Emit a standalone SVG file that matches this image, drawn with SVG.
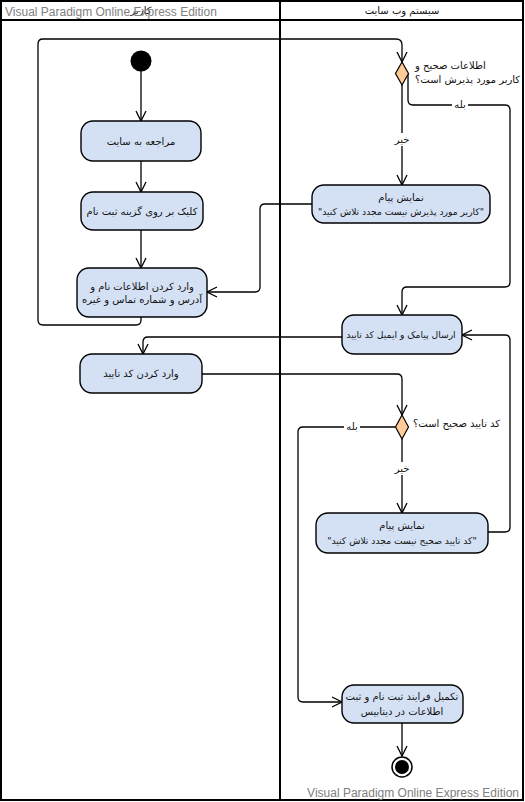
<svg xmlns="http://www.w3.org/2000/svg" width="525" height="802" viewBox="0 0 525 802">
  <defs>
    <marker id="open-arrow" viewBox="0 0 12 12" refX="11" refY="6" markerWidth="12" markerHeight="12" markerUnits="userSpaceOnUse" orient="auto">
      <path d="M1,1 L11,6 L1,11" fill="none" stroke="#000" stroke-width="1.3"/>
    </marker>
  </defs>
  <style>
    .lane { fill: none; stroke: #000; stroke-width: 2; }
    .action { fill: #d4e1f5; stroke: #000; stroke-width: 1.4; }
    .decision { fill: #ffcc99; stroke: #000; stroke-width: 1.2; }
    .edge { fill: none; stroke: #000; stroke-width: 1.3; }
    .arrow { marker-end: url(#open-arrow); }
    .txt { font-family: "DejaVu Sans", "Liberation Sans", sans-serif; font-size: 10px; fill: #111; }
    .sm { font-size: 9.2px; }
    .lbl-bg { fill: #fff; }
    .wm { font-family: "Liberation Sans", Arial, sans-serif; font-size: 12px; fill: #808080; }
  </style>
  <rect width="525" height="802" fill="#fff"/>

  <!-- swimlanes -->
  <g id="lanes">
    <rect class="lane" x="1" y="1" width="522" height="799"/>
    <line class="lane" x1="1" y1="20" x2="523" y2="20"/>
    <line class="lane" x1="280" y1="1" x2="280" y2="800"/>
    <text class="txt" x="141" y="14" text-anchor="middle" direction="rtl">کاربر</text>
    <text class="txt" x="402" y="14" text-anchor="middle" direction="rtl">سیستم وب سایت</text>
  </g>

  <!-- connectors -->
  <g id="connectors">
    <path class="edge arrow" d="M141,71 L141,121"/>
    <path class="edge arrow" d="M141,161 L141,192"/>
    <path class="edge arrow" d="M141,230 L141,268"/>
    <path class="edge arrow" d="M141,317 L141,320 Q141,325 136,325 L43,325 Q38,325 38,320 L38,44 Q38,39 43,39 L396,39 Q402,39 402,45 L402,62"/>
    <path class="edge arrow" d="M402,85 L402,185"/>
    <path class="edge arrow" d="M408,73 L408,100 Q408,105 413,105 L505,105 Q510,105 510,110 L510,282 Q510,287 505,287 L407,287 Q402,287 402,292 L402,315"/>
    <path class="edge arrow" d="M312,204 L265,204 Q260,204 260,209 L260,287 Q260,292 255,292 L207,292"/>
    <path class="edge arrow" d="M342,337 L148,337 Q143,337 143,342 L143,354"/>
    <path class="edge arrow" d="M202,374 L397,374 Q402,374 402,379 L402,415"/>
    <path class="edge arrow" d="M395,427 L303,427 Q298,427 298,432 L298,697 Q298,702 303,702 L342,702"/>
    <path class="edge arrow" d="M402,439 L402,513"/>
    <path class="edge arrow" d="M488,532 L505,532 Q510,532 510,527 L510,340 Q510,335 505,335 L462,335"/>
    <path class="edge arrow" d="M402,723 L402,756"/>
    <!-- edge labels -->
    <rect class="lbl-bg" x="394" y="133" width="16" height="13"/>
    <text class="txt" x="402" y="143" text-anchor="middle" direction="rtl">خیر</text>
    <rect class="lbl-bg" x="452" y="99" width="16" height="12"/>
    <text class="txt" x="460" y="108" text-anchor="middle" direction="rtl">بله</text>
    <rect class="lbl-bg" x="344" y="421" width="16" height="12"/>
    <text class="txt" x="352" y="430" text-anchor="middle" direction="rtl">بله</text>
    <rect class="lbl-bg" x="394" y="462" width="16" height="13"/>
    <text class="txt" x="402" y="472" text-anchor="middle" direction="rtl">خیر</text>
  </g>

  <!-- initial node -->
  <g id="start">
    <circle cx="141" cy="61" r="10.5" fill="#000"/>
  </g>

  <g id="visit-site">
    <rect class="action" x="81" y="121" width="120" height="40" rx="12"/>
    <text class="txt" x="141" y="145" text-anchor="middle" direction="rtl">مراجعه به سایت</text>
  </g>

  <g id="click-register">
    <rect class="action" x="81" y="192" width="122" height="38" rx="12"/>
    <text class="txt" x="142" y="215" text-anchor="middle" direction="rtl">کلیک بر روی گزینه ثبت نام</text>
  </g>

  <g id="enter-info">
    <rect class="action" x="77" y="268" width="130" height="49" rx="12"/>
    <text class="txt" x="142" y="290" text-anchor="middle" direction="rtl">وارد کردن اطلاعات نام و</text>
    <text class="txt" x="142" y="303" text-anchor="middle" direction="rtl">آدرس و شماره تماس و غیره</text>
  </g>

  <g id="enter-code">
    <rect class="action" x="80" y="354" width="122" height="39" rx="12"/>
    <text class="txt" x="141" y="377" text-anchor="middle" direction="rtl">وارد کردن کد تایید</text>
  </g>

  <g id="check-info">
    <polygon class="decision" points="402,62 408.5,73.5 402,85 395.5,73.5"/>
    <text class="txt" x="415" y="69" text-anchor="end" direction="rtl">اطلاعات صحیح و</text>
    <text class="txt" x="415" y="83" text-anchor="end" direction="rtl">کاربر مورد پذیرش است؟</text>
  </g>

  <g id="msg-not-accepted">
    <rect class="action" x="312" y="185" width="178" height="38" rx="12"/>
    <text class="txt" x="401" y="201" text-anchor="middle" direction="rtl">نمایش پیام</text>
    <text class="txt sm" x="401" y="215" text-anchor="middle" direction="rtl">"کاربر مورد پذیرش نیست مجدد تلاش کنید"</text>
  </g>

  <g id="send-code">
    <rect class="action" x="342" y="315" width="120" height="39" rx="12"/>
    <text class="txt sm" x="401" y="338" text-anchor="middle" direction="rtl">ارسال پیامک و ایمیل کد تایید</text>
  </g>

  <g id="check-code">
    <polygon class="decision" points="402,415 408.5,427 402,439 395.5,427"/>
    <text class="txt" x="413" y="427" text-anchor="end" direction="rtl">کد تایید صحیح است؟</text>
  </g>

  <g id="msg-wrong-code">
    <rect class="action" x="316" y="513" width="172" height="40" rx="12"/>
    <text class="txt" x="402" y="529" text-anchor="middle" direction="rtl">نمایش پیام</text>
    <text class="txt sm" x="402" y="544" text-anchor="middle" direction="rtl">"کد تایید صحیح نیست مجدد تلاش کنید"</text>
  </g>

  <g id="complete">
    <rect class="action" x="342" y="685" width="121" height="38" rx="12"/>
    <text class="txt" x="402" y="700" text-anchor="middle" direction="rtl">تکمیل فرایند ثبت نام و ثبت</text>
    <text class="txt" x="402" y="715" text-anchor="middle" direction="rtl">اطلاعات در دیتابیس</text>
  </g>

  <!-- final node -->
  <g id="end">
    <circle cx="402" cy="767" r="10" fill="#fff" stroke="#000" stroke-width="1.5"/>
    <circle cx="402" cy="767" r="7" fill="#000"/>
  </g>

  <text class="wm" x="5" y="16">Visual Paradigm Online Express Edition</text>
  <text class="wm" x="519" y="797" text-anchor="end">Visual Paradigm Online Express Edition</text>
</svg>
